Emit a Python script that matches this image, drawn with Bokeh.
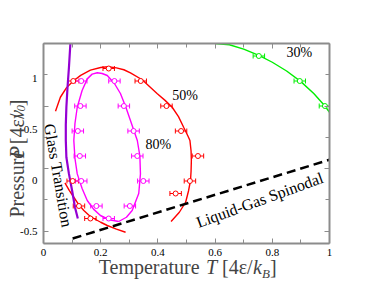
import math
from bokeh.plotting import figure
from bokeh.layouts import row, column
from bokeh.models import ColumnDataSource, Whisker, Label, LinearAxis, FixedTicker, TeeHead, Range1d
from bokeh.embed import file_html
from bokeh.resources import INLINE

# ---------------- data ----------------
# 50% points (red)
t50 = [0.228, 0.104, 0.340, 0.430, 0.481, 0.540, 0.512, 0.462, 0.102, 0.124, 0.164]
p50 = [0.80, 0.70, 0.70, 0.50, 0.30, 0.10, -0.10, -0.20, -0.10, -0.30, -0.40]
e50 = [0.02] * len(t50)
# 80% points (magenta)
t80 = [0.132, 0.248, 0.129, 0.281, 0.120, 0.315, 0.127, 0.328, 0.132, 0.349, 0.185, 0.302, 0.228]
p80 = [0.70, 0.70, 0.50, 0.50, 0.30, 0.30, 0.10, 0.10, -0.10, -0.10, -0.30, -0.30, -0.40]
e80 = [0.02] * len(t80)
# 30% points (green)
t30 = [0.753, 0.896, 0.984]
p30 = [0.90, 0.70, 0.50]
e30 = [0.02] * len(t30)

# fitted curves
fit50a_t = [0.042, 0.059, 0.080, 0.104, 0.130, 0.164, 0.200, 0.225, 0.255, 0.281, 0.304, 0.345,
            0.397, 0.425, 0.450, 0.472, 0.490, 0.505, 0.512, 0.516, 0.517, 0.516, 0.514, 0.507,
            0.497, 0.475, 0.446]
fit50a_p = [0.458, 0.570, 0.645, 0.700, 0.745, 0.787, 0.808, 0.814, 0.805, 0.790, 0.765, 0.710,
            0.600, 0.545, 0.490, 0.415, 0.330, 0.260, 0.224, 0.140, 0.064, -0.020, -0.096, -0.180,
            -0.270, -0.350, -0.424]
fit50b_t = [0.075, 0.090, 0.106, 0.122, 0.141, 0.158, 0.176, 0.200, 0.223, 0.255, 0.287]
fit50b_p = [-0.115, -0.175, -0.230, -0.285, -0.336, -0.372, -0.400, -0.430, -0.456, -0.485, -0.510]
fit80_t = [0.263, 0.230, 0.199, 0.175, 0.153, 0.135, 0.118, 0.110, 0.106, 0.110, 0.118, 0.135,
           0.153, 0.170, 0.188, 0.205, 0.223, 0.248, 0.269, 0.288, 0.304, 0.328, 0.337, 0.339,
           0.333, 0.310, 0.290, 0.263]
fit80_p = [-0.424, -0.410, -0.376, -0.325, -0.256, -0.160, -0.043, 0.080, 0.224, 0.360, 0.490, 0.624,
           0.717, 0.755, 0.766, 0.760, 0.744, 0.680, 0.600, 0.490, 0.384, 0.224, 0.100, -0.043,
           -0.200, -0.336, -0.390, -0.424]
fit30_t = [0.600, 0.650, 0.700, 0.753, 0.800, 0.850, 0.900, 0.945, 0.984, 1.000]
fit30_p = [1.000, 0.990, 0.955, 0.905, 0.850, 0.780, 0.695, 0.600, 0.500, 0.450]
glass_t = [0.097, 0.094, 0.089, 0.084, 0.080, 0.078, 0.078, 0.080, 0.089, 0.100, 0.110, 0.120]
glass_p = [1.050, 1.000, 0.810, 0.650, 0.490, 0.350, 0.224, 0.090, -0.043, -0.176, -0.310, -0.400]
spin_t = [0.102, 1.0]
spin_p = [-0.560, 0.070]

x_ticks = [0, 0.2, 0.4, 0.6, 0.8, 1]
x_tick_labels = ["0", "0.2", "0.4", "0.6", "0.8", "1"]
x_minor = [0.1, 0.3, 0.5, 0.7, 0.9]
y_ticks = [-0.5, 0, 0.5, 1]
y_tick_labels = ["-0.5", "0", "0.5", "1"]
y_minor = [-0.25, 0.25, 0.75]

# ---------------- layout geometry (page pixels) ----------------
X0, X1, Y0, Y1 = 0.0, 1.0, -0.6, 1.0
PW, PH = 370, 286                   # whole page
FL, FR, FT, FB = 43, 329, 43, 243   # frame edges on the page
YW = FL - 2                         # left strip (y tick labels + y title)
MH = FB + 2                         # main plot height
FW, FH = FR - FL, FB - FT
sx = FW / (X1 - X0)
sy = FH / (Y1 - Y0)

AX = "#8c8c8c"
FONT = "Liberation Serif"

main = figure(width=PW - YW, height=MH, x_range=Range1d(X0, X1), y_range=Range1d(Y0, Y1),
              output_backend="svg", toolbar_location=None,
              min_border_left=FL - YW, min_border_right=PW - FR, min_border_top=FT,
              min_border_bottom=MH - FB)
main.xgrid.visible = False
main.ygrid.visible = False
main.outline_line_color = None
main.background_fill_color = "white"
main.border_fill_color = "white"


def style_axis(ax, ticks, minor):
    ax.ticker = FixedTicker(ticks=ticks, minor_ticks=minor)
    ax.axis_line_color = AX
    ax.axis_line_width = 2
    ax.major_tick_line_color = AX
    ax.minor_tick_line_color = AX
    ax.major_tick_in = 5
    ax.major_tick_out = 0
    ax.minor_tick_in = 4
    ax.minor_tick_out = 0
    ax.major_label_overrides = {t: "" for t in ticks}
    ax.major_label_text_font_size = "0px"
    ax.major_label_standoff = 0


style_axis(main.xaxis[0], x_ticks, x_minor)
style_axis(main.yaxis[0], y_ticks, y_minor)
top = LinearAxis()
style_axis(top, x_ticks, x_minor)
main.add_layout(top, "above")
right = LinearAxis()
style_axis(right, y_ticks, y_minor)
main.add_layout(right, "right")

# ---------------- curves ----------------
main.line(fit30_t, fit30_p, line_color="#00ee00", line_width=1.4)
main.line(fit50a_t, fit50a_p, line_color="#ff0000", line_width=1.4)
main.line(fit50b_t, fit50b_p, line_color="#ff0000", line_width=1.4)
main.line(fit80_t, fit80_p, line_color="#ff00ff", line_width=1.4)
main.line(glass_t, glass_p, line_color="#9400d3", line_width=2.2)
main.line(spin_t, spin_p, line_color="black", line_width=2.5, line_dash="9 5")


def points(ts, ps, es, color):
    src = ColumnDataSource(dict(t=ts, p=ps,
                                lo=[a - e for a, e in zip(ts, es)],
                                hi=[a + e for a, e in zip(ts, es)]))
    w = Whisker(source=src, base="p", lower="lo", upper="hi", dimension="width",
                line_color=color, line_width=1,
                lower_head=TeeHead(size=5, line_color=color, line_width=1),
                upper_head=TeeHead(size=5, line_color=color, line_width=1))
    main.add_layout(w)
    main.scatter("t", "p", source=src, marker="circle", size=5, fill_color="white",
                 line_color=color, line_width=1)


points(t50, p50, e50, "#ff0000")
points(t80, p80, e80, "#ff00ff")
points(t30, p30, e30, "#00ee00")


def lab(fig, x, y, text, size, **kw):
    fig.add_layout(Label(x=x, y=y, text=text, text_font=FONT, text_font_size=f"{size}px",
                         text_color="black", **kw))


lab(main, 0.850, 0.925, "30%", 14, text_baseline="middle")
lab(main, 0.450, 0.584, "50%", 14, text_baseline="middle")
lab(main, 0.357, 0.190, "80%", 14, text_baseline="middle")
lab(main, 0.052, -0.056, "Glass Transition", 16, angle=math.radians(-80.2),
    text_align="center", text_baseline="middle")
lab(main, 0.756, -0.252, "Liquid-Gas Spinodal", 16, angle=math.radians(20),
    text_align="center", text_baseline="alphabetic")

# ---------------- strips for tick labels and axis titles ----------------
REG = {'T': 0.611, 'e': 0.444, 'm': 0.778, 'p': 0.5, 'r': 0.333, 'a': 0.444, 't': 0.278,
       'u': 0.5, ' ': 0.25, '[': 0.333, '4': 0.5, 'ε': 0.44, '/': 0.278, ']': 0.333,
       'P': 0.556, 's': 0.389, '0': 0.5}
ITA = {'T': 0.556, 'k': 0.444, 'B': 0.611, 'P': 0.611, 'v': 0.444, ' ': 0.25, '0': 0.5}

xlabel_parts = [("Temperature ", "normal", 20, 0), ("T ", "italic", 20, 0), ("[4ε/", "normal", 20, 0),
                ("k", "italic", 20, 0), ("B", "italic", 13, 6), ("]", "normal", 20, 0)]
ylabel_parts = [("Pressure ", "normal", 20, 0), ("P ", "italic", 20, 0), ("[4ε/", "normal", 20, 0),
                ("v", "italic", 20, 0), ("0", "italic", 13, 4), ("]", "normal", 20, 0)]


def width(s, style, size):
    tab = ITA if style == "italic" else REG
    return sum(tab.get(c, 0.5) for c in s) * size


def blank(w, h, xr, yr):
    f = figure(width=w, height=h, x_range=xr, y_range=yr, output_backend="svg",
               toolbar_location=None, min_border=0, x_axis_type=None, y_axis_type=None)
    f.grid.visible = False
    f.outline_line_color = None
    f.background_fill_color = "white"
    f.border_fill_color = "white"
    return f


# left strip: x in page pixels, y on the main plot's pressure scale
yfig = blank(YW, MH, Range1d(0, YW), Range1d(Y1 - (MH - FT) / sy, Y1 + FT / sy))
yfig.text(x=[FL - 6] * len(y_ticks), y=y_ticks, text=y_tick_labels, text_font=FONT,
          text_font_size="11px", text_align="right", text_baseline="middle", text_color="black")
total = sum(width(s, st, sz) for s, st, sz, _ in ylabel_parts)
cur = 0.21 - total / 2 / sy
for s, st, sz, dn in ylabel_parts:
    yfig.add_layout(Label(x=16 + dn, y=cur, text=s, text_font=FONT, text_font_style=st,
                          text_font_size=f"{sz}px", text_baseline="alphabetic",
                          text_align="left", angle=math.pi / 2))
    cur += width(s, st, sz) / sy

# bottom strip: x on the main plot's temperature scale, y in page pixels (downwards)
xfig = blank(PW, PH - MH, Range1d(X0 - FL / sx, X0 + (PW - FL) / sx), Range1d(PH, MH))
xfig.text(x=x_ticks, y=[251.5] * len(x_ticks), text=x_tick_labels, text_font=FONT,
          text_font_size="11px", text_align="center", text_baseline="middle", text_color="black")
total = sum(width(s, st, sz) for s, st, sz, _ in xlabel_parts)
cur = 0.5 * (X0 + X1) - total / 2 / sx + 0.004
for s, st, sz, dn in xlabel_parts:
    xfig.add_layout(Label(x=cur, y=266.7 + dn, text=s, text_font=FONT, text_font_style=st,
                          text_font_size=f"{sz}px", text_baseline="alphabetic", text_align="left"))
    cur += width(s, st, sz) / sx

layout = column(row(yfig, main, spacing=0), xfig, spacing=0)
open("out.html", "w").write(file_html(layout, INLINE))
